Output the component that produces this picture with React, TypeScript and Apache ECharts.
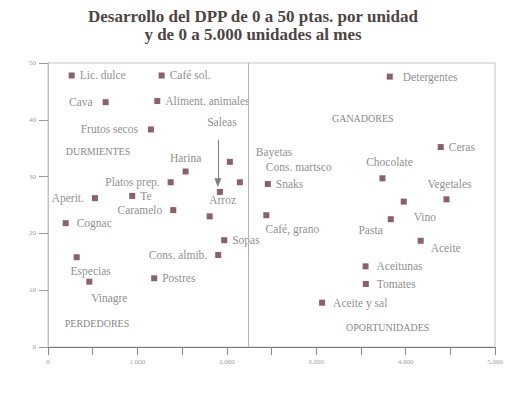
import React, { useEffect, useRef } from "react";
import * as echarts from "echarts";

const productNames = [
  "Lic. dulce", "Café sol.", "Cava", "Aliment. animales", "Frutos secos", "Harina",
  "Bayetas", "Cons. martsco", "Snaks", "Platos prep.", "Saleas", "Te", "Aperit.",
  "Caramelo", "Arroz", "Cognac", "Sopas", "Cons. almib.", "Especias", "Postres",
  "Vinagre", "Café, grano", "Chocolate", "Detergentes", "Ceras", "Vegetales", "Vino",
  "Pasta", "Aceite", "Aceitunas", "Tomates", "Aceite y sal",
];
const unitsPerMonth = [
  265, 1271, 645, 1222, 1151, 1539, 2034, 2146, 2459, 1372, 1923, 942, 525,
  1401, 1808, 198, 1971, 1904, 321, 1188, 462, 2442, 3741, 3823, 4393, 4457, 3979,
  3834, 4169, 3552, 3555, 3066,
];
const dppPerUnit = [
  47.8, 47.8, 43.1, 43.3, 38.3, 30.9, 32.6, 29.0, 28.7, 29.0, 27.3, 26.6, 26.2,
  24.1, 23.0, 21.8, 18.8, 16.2, 15.8, 12.1, 11.5, 23.2, 29.7, 47.6, 35.2, 26.0, 25.6,
  22.5, 18.7, 14.2, 11.1, 7.8,
];

const quadrantNames = ["DURMIENTES", "GANADORES", "PERDEDORES", "OPORTUNIDADES"];
const quadrantX = [559, 3521, 548, 3800];
const quadrantY = [34.4, 40.2, 4.2, 3.4];

const dividerX = 2235;
const saleasArrow = { x: 1900, yFrom: 36.5, yTo: 28.9 };

const xTicks = { min: 0, max: 5000, step: 500 };
const yTicks = { min: 0, max: 50, step: 10 };

const labelStyles: Record<string, any> = {
  "Lic. dulce": { position: "right" },
  "Café sol.": { position: "right" },
  "Cava": { position: "left", distance: 10 },
  "Aliment. animales": { position: "right" },
  "Frutos secos": { position: "left", distance: 10 },
  "Harina": { position: "top", distance: 4 },
  "Bayetas": { position: "right", offset: [18, -10] },
  "Cons. martsco": { position: "right", offset: [18, -15] },
  "Snaks": { position: "right" },
  "Platos prep.": { position: "left", distance: 8 },
  "Saleas": { position: "top", offset: [2, -56] },
  "Te": { position: "right" },
  "Aperit.": { position: "left", distance: 8 },
  "Caramelo": { position: "left", distance: 8 },
  "Arroz": { position: "top", offset: [13, -2] },
  "Cognac": { position: "right", distance: 8 },
  "Sopas": { position: "right" },
  "Cons. almib.": { position: "left", distance: 8 },
  "Especias": { position: "bottom", offset: [14, 0] },
  "Postres": { position: "right" },
  "Vinagre": { position: "bottom", offset: [20, 2] },
  "Café, grano": { position: "bottom", offset: [26, 0] },
  "Chocolate": { position: "top", offset: [7, -2] },
  "Detergentes": { position: "right", distance: 10 },
  "Ceras": { position: "right" },
  "Vegetales": { position: "top", offset: [3, -1] },
  "Vino": { position: "right", offset: [2, 15] },
  "Pasta": { position: "left", offset: [0, 11] },
  "Aceite": { position: "right", offset: [2, 7] },
  "Aceitunas": { position: "right", distance: 8 },
  "Tomates": { position: "right", distance: 8 },
  "Aceite y sal": { position: "right", distance: 8 },
};

const fmtThousands = (v: number) =>
  String(v).replace(/\B(?=(\d{3})+(?!\d))/g, ".");

export default function App() {
  const ref = useRef<HTMLDivElement>(null);

  useEffect(() => {
    if (!ref.current) return;
    const chart = echarts.init(ref.current, undefined, { renderer: "svg" });
    const serif = "'Liberation Serif', 'DejaVu Serif', serif";
    const pointData = productNames.map((n, i) => ({
      name: n,
      value: [unitsPerMonth[i], dppPerUnit[i]],
      label: { show: true, formatter: n, distance: 5, ...labelStyles[n] },
    }));
    const quadData = quadrantNames.map((n, i) => ({
      name: n,
      value: [quadrantX[i], quadrantY[i]],
    }));
    chart.setOption({
      animation: false,
      backgroundColor: "#ffffff",
      title: {
        text: "Desarrollo del DPP de 0 a 50 ptas. por unidad\ny de 0 a 5.000 unidades al mes",
        left: 248,
        textAlign: "center",
        top: 2,
        textStyle: {
          fontFamily: serif,
          fontWeight: "bold",
          fontSize: 17,
          color: "#4e4444",
          lineHeight: 18,
        },
      },
      grid: {
        left: 48,
        right: 27,
        top: 63,
        bottom: 50,
        show: true,
        borderColor: "#c4c4c4",
        borderWidth: 1,
      },
      xAxis: {
        type: "value",
        min: xTicks.min,
        max: xTicks.max,
        interval: xTicks.step,
        splitLine: { show: false },
        axisLine: { show: true, lineStyle: { color: "#7a7a7a", width: 1 } },
        axisTick: { show: true, length: 8, lineStyle: { color: "#8a8a8a" } },
        axisLabel: {
          fontSize: 7,
          color: "#a0a0a0",
          fontFamily: serif,
          margin: 11,
          formatter: (v: number) => (v % 1000 === 0 ? fmtThousands(v) : ""),
        },
      },
      yAxis: {
        type: "value",
        min: yTicks.min,
        max: yTicks.max,
        interval: yTicks.step,
        splitLine: { show: false },
        axisLine: { show: true, lineStyle: { color: "#c0c0c0", width: 1 } },
        axisTick: { show: true, length: 9, lineStyle: { color: "#999999" } },
        axisLabel: { fontSize: 7, color: "#a0a0a0", fontFamily: serif, margin: 12 },
      },
      series: [
        {
          type: "scatter",
          symbol: "rect",
          symbolSize: 6,
          itemStyle: { color: "#6d3a42" },
          label: {
            fontFamily: serif,
            fontSize: 11.5,
            color: "#707070",
          },
          data: pointData,
          markLine: {
            silent: true,
            symbol: "none",
            animation: false,
            lineStyle: { color: "#b4b4b4", width: 1, type: "solid" },
            label: { show: false },
            data: [{ xAxis: dividerX }],
          },
        },
        {
          type: "scatter",
          symbolSize: 0,
          silent: true,
          label: {
            show: true,
            position: "inside",
            formatter: "{b}",
            fontFamily: serif,
            fontSize: 10,
            color: "#666666",
          },
          data: quadData,
          markLine: {
            silent: true,
            animation: false,
            symbol: ["none", "triangle"],
            symbolSize: [7, 9],
            lineStyle: { color: "#808080", width: 1, type: "solid" },
            label: { show: false },
            data: [
              [
                { coord: [saleasArrow.x, saleasArrow.yFrom] },
                { coord: [saleasArrow.x, saleasArrow.yTo] },
              ],
            ],
          },
        },
      ],
    });
    return () => chart.dispose();
  }, []);

  return <div ref={ref} style={{ width: 522, height: 397, margin: -8 }} />;
}
